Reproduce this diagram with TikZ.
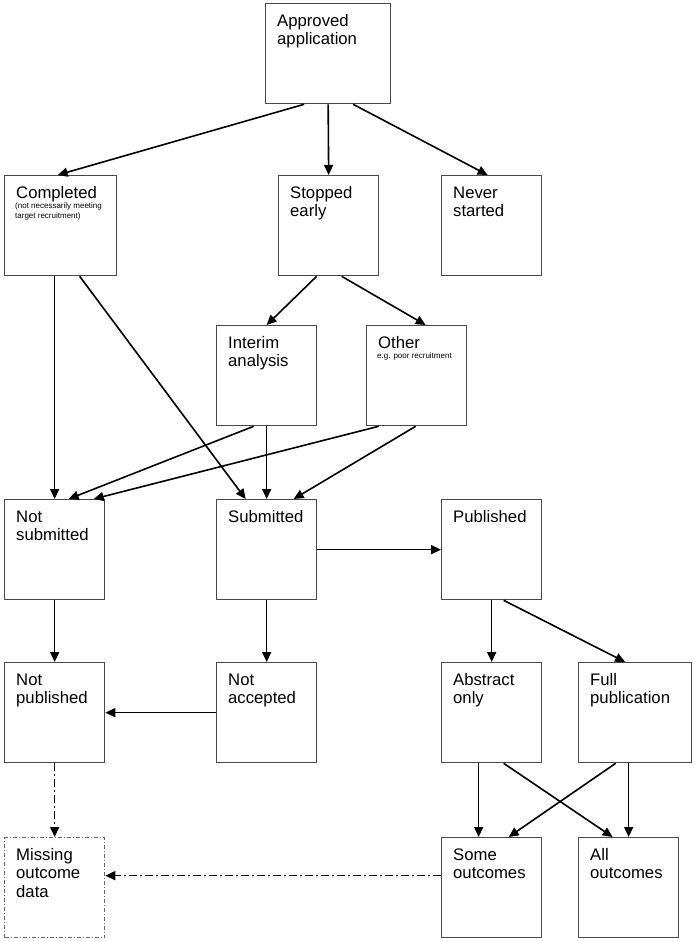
\documentclass[tikz,border=0pt]{standalone}
\usepackage{fontspec}
\setmainfont{Liberation Sans}
\usetikzlibrary{arrows.meta}
\tikzset{
  bx/.style={draw=black!72, line width=1.3pt, rectangle, inner sep=0pt, anchor=north west},
  bxdd/.style={bx, draw=black!60, dash pattern=on 4pt off 2pt on 1pt off 2pt},
  txt/.style={anchor=north west, inner sep=0pt, align=left, font=\fontsize{16.7}{18.7}\selectfont},
  sml/.style={anchor=north west, inner sep=0pt, align=left, font=\fontsize{8}{9.5}\selectfont},
  arr/.style={line width=1.6pt, -{Triangle[length=10pt,width=9pt]}},
  ddarr/.style={arr, dash pattern=on 8pt off 3pt on 2pt off 3pt},
}
\newcommand\mkbox[7][bx]{%
  \node[#1, minimum width={(#5-#3)*1pt}, minimum height={(#6-#4)*1pt}] (#2) at (#3,#4) {};
  \node[txt] (#2-t) at ([shift={(12pt,-9.9pt)}]#2.north west) {\strut #7};
}
\begin{document}
\begin{tikzpicture}[x=1pt,y=-1pt]
\useasboundingbox (0,0) rectangle (695,941);
\mkbox{app}{265}{3}{390}{103}{Approved\\application}
\mkbox{comp}{4}{175}{116}{275}{Completed}
\node[sml] (comp-s) at ([shift={(11pt,-27pt)}]comp.north west) {\strut(not necessarily meeting\\target recruitment)};
\mkbox{stop}{278}{175}{378}{275}{Stopped\\early}
\mkbox{never}{441}{175}{541}{275}{Never\\started}
\mkbox{interim}{216}{325}{316}{425}{Interim\\analysis}
\mkbox{other}{366}{325}{466}{425}{Other}
\node[sml] (other-s) at ([shift={(11pt,-27pt)}]other.north west) {\strut e.g. poor recruitment};
\mkbox{notsub}{4}{499}{104}{599}{Not\\submitted}
\mkbox{sub}{216}{499}{316}{599}{Submitted}
\mkbox{pub}{441}{499}{541}{599}{Published}
\mkbox{notpub}{4}{662}{104}{762}{Not\\published}
\mkbox{notacc}{216}{662}{316}{762}{Not\\accepted}
\mkbox{abs}{441}{662}{541}{762}{Abstract\\only}
\mkbox{full}{578}{662}{691}{762}{Full\\publication}
\mkbox[bxdd]{miss}{4}{837}{104}{937}{Missing\\outcome\\data}
\mkbox{some}{441}{837}{541}{937}{Some\\outcomes}
\mkbox{all}{578}{837}{678}{937}{All\\outcomes}

\draw[arr] ([xshift=-24pt]app.south) -- ([xshift=-3pt]comp.north);
\draw[arr] (app.south) -- (stop.north);
\draw[arr] ([xshift=25pt]app.south) -- ([xshift=-4pt]never.north);
\draw[arr] ([xshift=-12pt]stop.south) -- (interim.north);
\draw[arr] ([xshift=13pt]stop.south) -- ([xshift=9pt]other.north);
\draw[arr] ([xshift=-6pt]comp.south) -- (notsub.north);
\draw[arr] ([xshift=19pt]comp.south) -- ([xshift=-21pt]sub.north);
\draw[arr] ([xshift=-13pt]interim.south) -- ([xshift=14pt]notsub.north);
\draw[arr] (interim.south) -- (sub.north);
\draw[arr] ([xshift=-38pt]other.south) -- ([xshift=39pt]notsub.north);
\draw[arr] ([xshift=-1pt]other.south) -- ([xshift=27pt]sub.north);
\draw[arr] (sub.east) -- (pub.west);
\draw[arr] (pub.south) -- (abs.north);
\draw[arr] ([xshift=12pt]pub.south) -- ([xshift=-10pt]full.north);
\draw[arr] (notsub.south) -- (notpub.north);
\draw[arr] (sub.south) -- (notacc.north);
\draw[arr] (notacc.west) -- (notpub.east);
\draw[ddarr] (notpub.south) -- (miss.north);
\draw[ddarr] ([yshift=12pt]some.west) -- ([yshift=12pt]miss.east);
\draw[arr] ([xshift=-13pt]abs.south) -- ([xshift=-13pt]some.north);
\draw[arr] ([xshift=12pt]abs.south) -- ([xshift=-16pt]all.north);
\draw[arr] ([xshift=-19.5pt]full.south) -- ([xshift=17pt]some.north);
\draw[arr] ([xshift=-6.5pt]full.south) -- (all.north);
\end{tikzpicture}
\end{document}
